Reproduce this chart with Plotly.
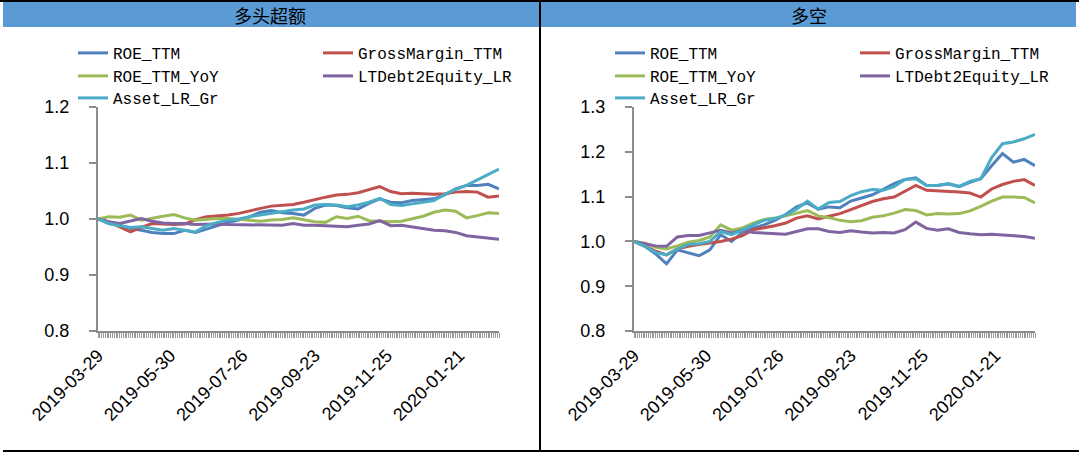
import plotly.graph_objects as go

W, H = 1079, 459

# ---------------- data ----------------
tick_days = [0, 40, 80, 120, 160, 200]
tick_labels = ["2019-03-29", "2019-05-30", "2019-07-26", "2019-09-23", "2019-11-25", "2020-01-21"]
sample_days = list(range(0, 223, 6))  # trading-day index of each sampled value

names = ["ROE_TTM", "GrossMargin_TTM", "ROE_TTM_YoY", "LTDebt2Equity_LR", "Asset_LR_Gr"]
colors = ["#4F81BD", "#C0504D", "#9BBB59", "#8064A2", "#4BACC6"]

panel_titles = ["多头超额", "多空"]

# 多头超额 (long excess)
long_roe_ttm = [1.000, 0.992, 0.989, 0.983, 0.980, 0.976, 0.974, 0.974, 0.980, 0.976,
                0.982, 0.988, 0.994, 0.998, 1.004, 1.012, 1.015, 1.011, 1.010, 1.007,
                1.019, 1.025, 1.024, 1.020, 1.018, 1.028, 1.036, 1.030, 1.029, 1.033,
                1.035, 1.036, 1.043, 1.054, 1.060, 1.060, 1.062, 1.054]
long_gross_margin = [1.000, 0.995, 0.986, 0.977, 0.985, 0.992, 0.991, 0.990, 0.991, 0.999,
                     1.004, 1.005, 1.007, 1.010, 1.015, 1.019, 1.023, 1.025, 1.026, 1.030,
                     1.035, 1.039, 1.043, 1.044, 1.047, 1.052, 1.058, 1.049, 1.045, 1.046,
                     1.045, 1.044, 1.045, 1.048, 1.049, 1.048, 1.039, 1.041]
long_roe_yoy = [1.000, 1.004, 1.003, 1.007, 0.998, 1.002, 1.005, 1.008, 1.002, 0.998,
                1.000, 1.001, 1.001, 0.999, 0.998, 0.996, 0.998, 0.999, 1.002, 0.998,
                0.995, 0.994, 1.004, 1.001, 1.005, 0.997, 0.996, 0.995, 0.996, 1.000,
                1.005, 1.012, 1.016, 1.014, 1.002, 1.006, 1.011, 1.010]
long_ltdebt = [1.000, 0.995, 0.992, 0.996, 1.001, 0.996, 0.993, 0.992, 0.992, 0.990,
               0.991, 0.991, 0.990, 0.990, 0.990, 0.990, 0.990, 0.989, 0.992, 0.989,
               0.989, 0.988, 0.986, 0.986, 0.989, 0.991, 0.997, 0.988, 0.989, 0.986,
               0.983, 0.980, 0.979, 0.976, 0.970, 0.968, 0.965, 0.964]
long_asset_gr = [1.000, 0.992, 0.988, 0.985, 0.986, 0.983, 0.980, 0.983, 0.980, 0.977,
                 0.988, 0.994, 0.998, 1.000, 1.004, 1.007, 1.010, 1.014, 1.016, 1.018,
                 1.025, 1.026, 1.025, 1.022, 1.025, 1.030, 1.037, 1.026, 1.024, 1.027,
                 1.030, 1.033, 1.044, 1.053, 1.060, 1.070, 1.080, 1.089]

# 多空 (long-short)
ls_roe_ttm = [1.000, 0.989, 0.972, 0.950, 0.981, 0.975, 0.968, 0.981, 1.015, 1.000,
              1.020, 1.030, 1.037, 1.047, 1.060, 1.077, 1.086, 1.072, 1.077, 1.075,
              1.090, 1.097, 1.104, 1.116, 1.129, 1.138, 1.142, 1.125, 1.125, 1.128,
              1.122, 1.132, 1.140, 1.169, 1.196, 1.177, 1.183, 1.169]
ls_gross_margin = [1.000, 0.990, 0.978, 0.970, 0.983, 0.989, 0.993, 0.996, 1.000, 1.005,
                   1.013, 1.026, 1.030, 1.035, 1.041, 1.052, 1.057, 1.050, 1.056, 1.062,
                   1.071, 1.080, 1.089, 1.095, 1.099, 1.112, 1.125, 1.114, 1.113, 1.111,
                   1.110, 1.108, 1.099, 1.117, 1.127, 1.134, 1.138, 1.125]
ls_roe_yoy = [1.000, 0.996, 0.987, 0.983, 0.990, 0.998, 1.002, 1.010, 1.037, 1.025,
              1.030, 1.041, 1.049, 1.052, 1.057, 1.063, 1.069, 1.057, 1.053, 1.047,
              1.044, 1.046, 1.054, 1.057, 1.063, 1.071, 1.069, 1.059, 1.062, 1.061,
              1.062, 1.068, 1.078, 1.090, 1.099, 1.099, 1.098, 1.086]
ls_ltdebt = [1.000, 0.995, 0.990, 0.989, 1.010, 1.013, 1.013, 1.019, 1.025, 1.019,
             1.025, 1.020, 1.019, 1.017, 1.016, 1.022, 1.028, 1.028, 1.022, 1.020,
             1.024, 1.021, 1.019, 1.020, 1.019, 1.026, 1.043, 1.029, 1.025, 1.028,
             1.020, 1.017, 1.015, 1.016, 1.014, 1.013, 1.011, 1.007]
ls_asset_gr = [1.000, 0.989, 0.975, 0.970, 0.983, 0.993, 0.995, 1.000, 1.022, 1.015,
               1.025, 1.037, 1.047, 1.051, 1.059, 1.072, 1.090, 1.072, 1.087, 1.089,
               1.102, 1.111, 1.116, 1.114, 1.122, 1.138, 1.140, 1.125, 1.125, 1.129,
               1.123, 1.134, 1.140, 1.187, 1.218, 1.222, 1.229, 1.239]

long_values = [long_roe_ttm, long_gross_margin, long_roe_yoy, long_ltdebt, long_asset_gr]
ls_values = [ls_roe_ttm, ls_gross_margin, ls_roe_yoy, ls_ltdebt, ls_asset_gr]
y_ranges = [[0.8, 1.2], [0.8, 1.3]]
y_dticks = [0.1, 0.1]

# ---------------- layout helpers (pixels -> paper) ----------------
def px(x):
    return x / W


def py(y):
    return 1 - y / H


panels = [
    dict(x0=98, x1=499, title_x=270, legend_cols=[113, 358]),
    dict(x0=634, x1=1035, title_x=809, legend_cols=[650, 895]),
]
plot_top, plot_bottom = 107, 331
legend_rows = [53, 76, 98]

fig = go.Figure()
layout_extra = {}
legend_id = 0
for p, (panel, values) in enumerate(zip(panels, [long_values, ls_values])):
    xa = "x" if p == 0 else "x2"
    ya = "y" if p == 0 else "y2"
    for k, (name, color, vals) in enumerate(zip(names, colors, values)):
        legend_id += 1
        lname = "legend" if legend_id == 1 else f"legend{legend_id}"
        fig.add_trace(go.Scatter(
            x=sample_days, y=vals, name=name, mode="lines",
            line=dict(color=color, width=3),
            xaxis=xa, yaxis=ya, legend=lname, showlegend=True,
            hoverinfo="skip",
        ))
        col = 0 if k % 2 == 0 else 1
        row = k // 2
        layout_extra[lname] = dict(
            x=px(panel["legend_cols"][col] - 40), y=py(legend_rows[row]),
            xanchor="left", yanchor="middle",
            bgcolor="rgba(0,0,0,0)", borderwidth=0,
            font=dict(family="Liberation Mono", size=16, color="black"),
            itemwidth=30,
        )

    axis_common_x = dict(
        domain=[px(panel["x0"]), px(panel["x1"])],
        range=[0, 222],
        tickmode="array", tickvals=tick_days, ticktext=tick_labels,
        tickangle=-45,
        tickfont=dict(family="Liberation Sans", size=18, color="black"),
        ticks="outside", ticklen=5, tickwidth=1, tickcolor="#9a9a9a",
        minor=dict(dtick=1, tick0=0, ticks="outside", ticklen=5, tickwidth=1, tickcolor="#9a9a9a"),
        showline=True, linecolor="#8c8c8c", linewidth=2,
        showgrid=False, zeroline=False, fixedrange=True, automargin=False,
        anchor=ya,
    )
    axis_common_y = dict(
        domain=[py(plot_bottom), py(plot_top)],
        range=y_ranges[p], dtick=y_dticks[p], tick0=0.8, tickformat=".1f",
        tickfont=dict(family="Liberation Sans", size=18, color="black"),
        ticks="outside", ticklen=7, tickwidth=2, tickcolor="#8c8c8c",
        ticklabelstandoff=16,
        showline=True, linecolor="#8c8c8c", linewidth=2,
        showgrid=False, zeroline=False, fixedrange=True, automargin=False,
        anchor=xa,
    )
    layout_extra["xaxis" if p == 0 else "xaxis2"] = axis_common_x
    layout_extra["yaxis" if p == 0 else "yaxis2"] = axis_common_y

shapes = [
    # header band
    dict(type="rect", xref="paper", yref="paper", x0=px(3), x1=px(1076), y0=py(27), y1=py(2),
         fillcolor="#5B9BD5", line=dict(width=0), layer="below"),
    # top border
    dict(type="line", xref="paper", yref="paper", x0=0, x1=1, y0=py(1), y1=py(1),
         line=dict(color="black", width=2)),
    # panel separator
    dict(type="line", xref="paper", yref="paper", x0=px(540), x1=px(540), y0=py(0), y1=py(451),
         line=dict(color="black", width=2)),
    # bottom border
    dict(type="line", xref="paper", yref="paper", x0=px(3), x1=1, y0=py(451), y1=py(451),
         line=dict(color="black", width=2)),
]

annotations = [
    dict(text=t, x=px(panel["title_x"]), y=py(15), xref="paper", yref="paper",
         showarrow=False, xanchor="center", yanchor="middle",
         font=dict(family="Noto Sans CJK SC", size=18, color="black"))
    for t, panel in zip(panel_titles, panels)
]

fig.update_layout(
    width=W, height=H,
    margin=dict(l=0, r=0, t=0, b=0, autoexpand=False),
    paper_bgcolor="white", plot_bgcolor="white",
    shapes=shapes, annotations=annotations,
    showlegend=True,
    **layout_extra,
)

fig.write_html(
    "out.html",
    config={"displayModeBar": False},
    post_script="document.body.style.margin='0px';document.body.style.overflow='hidden';",
)
